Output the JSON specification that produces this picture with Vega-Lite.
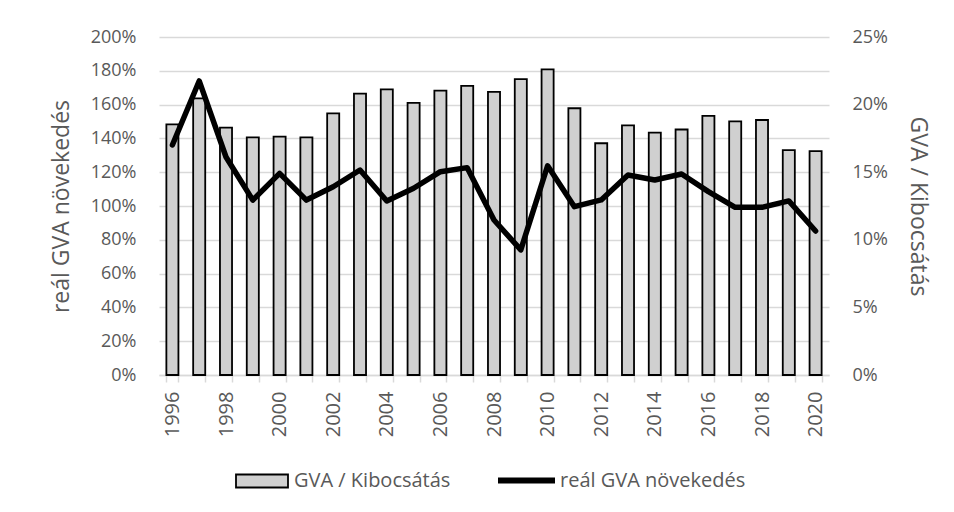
{
  "$schema": "https://vega.github.io/schema/vega-lite/v6.json",
  "width": 670,
  "height": 338,
  "autosize": "none",
  "padding": {"left": 159, "top": 37, "right": 125, "bottom": 137},
  "background": "white",
  "config": {
    "font": "Open Sans",
    "view": {"stroke": null},
    "axis": {"labelFont": "Open Sans", "titleFont": "Open Sans", "labelColor": "#595959", "titleColor": "#595959", "labelFontSize": 18, "titleFontSize": 23, "titleFontWeight": "normal"},
    "legend": {"labelFont": "Open Sans", "labelFontSize": 20, "labelColor": "#595959", "labelLimit": 400}
  },
  "data": {
    "values": [
      {"year": "1996", "ratio": 0.1854, "growth": 1.361},
      {"year": "1997", "ratio": 0.2046, "growth": 1.74},
      {"year": "1998", "ratio": 0.1829, "growth": 1.29},
      {"year": "1999", "ratio": 0.1758, "growth": 1.035},
      {"year": "2000", "ratio": 0.1763, "growth": 1.193},
      {"year": "2001", "ratio": 0.1758, "growth": 1.035},
      {"year": "2002", "ratio": 0.1935, "growth": 1.114},
      {"year": "2003", "ratio": 0.2081, "growth": 1.213},
      {"year": "2004", "ratio": 0.2113, "growth": 1.03},
      {"year": "2005", "ratio": 0.2013, "growth": 1.105},
      {"year": "2006", "ratio": 0.2103, "growth": 1.203},
      {"year": "2007", "ratio": 0.2138, "growth": 1.227},
      {"year": "2008", "ratio": 0.2094, "growth": 0.917},
      {"year": "2009", "ratio": 0.2188, "growth": 0.74},
      {"year": "2010", "ratio": 0.2261, "growth": 1.238},
      {"year": "2011", "ratio": 0.1973, "growth": 0.996},
      {"year": "2012", "ratio": 0.1714, "growth": 1.036},
      {"year": "2013", "ratio": 0.1846, "growth": 1.183},
      {"year": "2014", "ratio": 0.1793, "growth": 1.154},
      {"year": "2015", "ratio": 0.1816, "growth": 1.189},
      {"year": "2016", "ratio": 0.1916, "growth": 1.085},
      {"year": "2017", "ratio": 0.1876, "growth": 0.992},
      {"year": "2018", "ratio": 0.1886, "growth": 0.992},
      {"year": "2019", "ratio": 0.1664, "growth": 1.03},
      {"year": "2020", "ratio": 0.1656, "growth": 0.852}
    ]
  },
  "encoding": {
    "x": {
      "field": "year", "type": "ordinal",
      "scale": {"paddingInner": 0.55, "paddingOuter": 0.275},
      "axis": {
        "title": null, "labelAngle": -90, "labelAlign": "right", "labelBaseline": "middle", "labelFontSize": 20,
        "labelExpr": "parseInt(datum.value) % 2 == 0 ? datum.label : ''",
        "tickBand": "extent", "tickSize": 7, "tickColor": "#d9d9d9", "tickWidth": 1.5,
        "domainColor": "#d9d9d9", "domainWidth": 1.5, "labelPadding": 9, "grid": false
      }
    }
  },
  "layer": [
    {
      "mark": {"type": "bar", "stroke": "black", "strokeWidth": 1.8},
      "encoding": {
        "y": {
          "field": "ratio", "type": "quantitative",
          "scale": {"domain": [0, 0.25], "nice": false},
          "axis": {"orient": "right", "title": "GVA / Kibocsátás", "format": ".0%", "values": [0, 0.05, 0.1, 0.15, 0.2, 0.25], "grid": false, "ticks": false, "domain": false, "labelPadding": 23, "titlePadding": 18}
        },
        "fill": {
          "datum": "GVA / Kibocsátás", "type": "nominal",
          "scale": {"range": ["#d0d0d0"]},
          "legend": {"title": null, "orient": "none", "legendX": 76, "legendY": 417, "symbolType": "M-1,-0.25H1V0.25H-1Z", "symbolSize": 2704, "symbolStrokeColor": "black", "symbolStrokeWidth": 1.8, "labelOffset": 5}
        }
      }
    },
    {
      "mark": {"type": "line", "strokeWidth": 5.5, "strokeJoin": "round", "strokeCap": "round"},
      "encoding": {
        "y": {
          "field": "growth", "type": "quantitative",
          "scale": {"domain": [0, 2], "nice": false},
          "axis": {"orient": "left", "title": "reál GVA növekedés", "format": ".0%", "values": [0, 0.2, 0.4, 0.6, 0.8, 1, 1.2, 1.4, 1.6, 1.8, 2], "grid": true, "gridColor": "#d9d9d9", "gridWidth": 1.5, "ticks": false, "domain": false, "labelPadding": 23, "titlePadding": 17}
        },
        "stroke": {
          "datum": "reál GVA növekedés", "type": "nominal",
          "scale": {"range": ["black"]},
          "legend": {"title": null, "orient": "none", "legendX": 336, "legendY": 412, "symbolType": "stroke", "symbolSize": 3249, "symbolStrokeWidth": 6, "labelOffset": 2}
        }
      }
    }
  ],
  "resolve": {"scale": {"y": "independent", "fill": "independent", "stroke": "independent"}}
}
